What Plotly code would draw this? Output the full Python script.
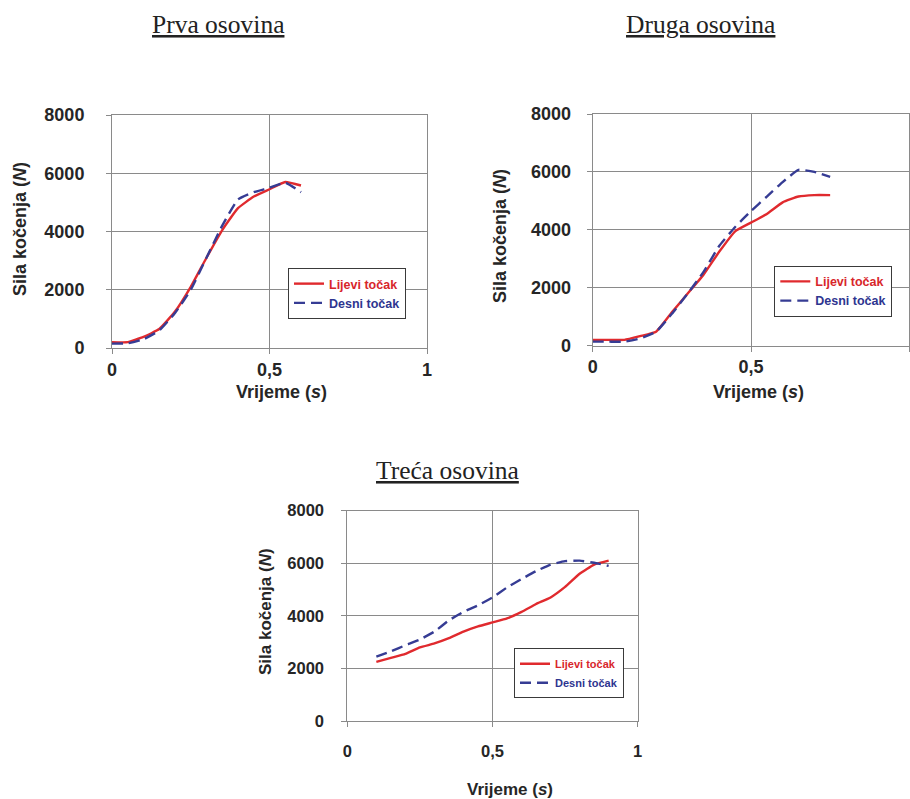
import plotly.graph_objects as go

# ---------------- data ----------------
x_prva = [0, 0.05, 0.1, 0.15, 0.2, 0.25, 0.3, 0.35, 0.4, 0.45, 0.5, 0.55, 0.6]
lijevi_prva = [200, 200, 380, 650, 1250, 2100, 3100, 4050, 4800, 5200, 5450, 5700, 5580]
desni_prva = [150, 160, 300, 600, 1200, 2000, 3100, 4200, 5100, 5350, 5500, 5680, 5350]

x_druga = [0, 0.05, 0.1, 0.15, 0.2, 0.25, 0.3, 0.35, 0.4, 0.45, 0.5, 0.55, 0.6, 0.65, 0.7, 0.75]
lijevi_druga = [200, 200, 200, 330, 480, 1150, 1800, 2450, 3250, 3950, 4250, 4550, 4950, 5150, 5200, 5200]
desni_druga = [140, 140, 140, 250, 480, 1100, 1800, 2550, 3450, 4100, 4650, 5150, 5650, 6070, 6000, 5830]

x_treca = [0.1, 0.15, 0.2, 0.25, 0.3, 0.35, 0.4, 0.45, 0.5, 0.55, 0.6, 0.65, 0.7, 0.75, 0.8, 0.85, 0.9]
lijevi_treca = [2250, 2400, 2550, 2800, 2950, 3150, 3400, 3600, 3750, 3900, 4150, 4450, 4700, 5100, 5600, 5950, 6100]
desni_treca = [2450, 2650, 2880, 3100, 3400, 3830, 4150, 4400, 4700, 5080, 5400, 5700, 5950, 6080, 6100, 6020, 5900]

x_tickvals = [0, 0.5, 1]
x_ticktext = ["0", "0,5", "1"]
y_tickvals = [0, 2000, 4000, 6000, 8000]
y_ticktext = ["0", "2000", "4000", "6000", "8000"]

titles = ["Prva osovina", "Druga osovina", "Treća osovina"]
series_names = ["Lijevi točak", "Desni točak"]
y_title = "Sila kočenja (<i>N</i>)"
x_title = "Vrijeme (<i>s</i>)"

RED = "#e02a2e"
BLUE = "#363c94"
GRID = "#8a8a8a"
TXT = "#262626"
SANS = "Liberation Sans, Arial, sans-serif"
SERIF = "Liberation Serif, Times New Roman, serif"

fig = go.Figure()

panels = [
    (x_prva, lijevi_prva, desni_prva, "x", "y", "legend"),
    (x_druga, lijevi_druga, desni_druga, "x2", "y2", "legend2"),
    (x_treca, lijevi_treca, desni_treca, "x3", "y3", "legend3"),
]

for xs, l, d, xa, ya, lg in panels:
    fig.add_trace(go.Scatter(
        x=xs, y=l, mode="lines", xaxis=xa, yaxis=ya, legend=lg,
        name="<span style='color:%s'>%s</span>" % ("#d8262b", series_names[0]),
        line=dict(color=RED, width=2.4, shape="spline", smoothing=0.4),
    ))
    fig.add_trace(go.Scatter(
        x=xs, y=d, mode="lines", xaxis=xa, yaxis=ya, legend=lg,
        name="<span style='color:%s'>%s</span>" % ("#2e3590", series_names[1]),
        line=dict(color=BLUE, width=2.4, dash="11px,6px", shape="spline", smoothing=0.4),
    ))

W, H = 910, 799

def px(v):
    return v / W

def py(v):
    return 1 - v / H

# plot area pixel boxes (left, right, top, bottom)
boxes = [
    (112, 427, 115, 348),
    (592.7, 909.3, 114, 345.7),
    (347.3, 637.7, 510.7, 721),
]

tickfont_sizes = [18, 18, 16.5]
xstandoffs = [0, 0, 10]
ystandoffs = [18, 12, 14]

layout = dict(
    width=W, height=H,
    margin=dict(l=0, r=0, t=0, b=0, pad=0),
    paper_bgcolor="white",
    plot_bgcolor="white",
    showlegend=True,
)

for i, (l, r, t, b) in enumerate(boxes):
    sfx = "" if i == 0 else str(i + 1)
    layout["xaxis" + sfx] = dict(
        domain=[px(l), px(r)], range=[0, 1], anchor="y" + sfx,
        tickvals=x_tickvals, ticktext=x_ticktext,
        showgrid=True, gridcolor=GRID, gridwidth=1,
        showline=True, linecolor=GRID, linewidth=1, mirror=True,
        ticks="outside", ticklen=5, tickcolor=GRID,
        ticklabelstandoff=xstandoffs[i],
        zeroline=False, automargin=False,
        tickfont=dict(family=SANS, size=tickfont_sizes[i], color=TXT, weight="bold"),
    )
    layout["yaxis" + sfx] = dict(
        domain=[py(b), py(t)], range=[0, 8000], anchor="x" + sfx,
        tickvals=y_tickvals, ticktext=y_ticktext,
        showgrid=True, gridcolor=GRID, gridwidth=1,
        showline=True, linecolor=GRID, linewidth=1, mirror=True,
        ticks="outside", ticklen=5, tickcolor=GRID,
        ticklabelstandoff=ystandoffs[i],
        zeroline=False, automargin=False,
        tickfont=dict(family=SANS, size=tickfont_sizes[i], color=TXT, weight="bold"),
    )

legend_pos = [(288, 268, 12.5), (774.3, 265.7, 12.5), (514, 648.3, 11)]
for i, (lx, ly, fs) in enumerate(legend_pos):
    key = "legend" if i == 0 else "legend" + str(i + 1)
    layout[key] = dict(
        x=px(lx), y=py(ly), xanchor="left", yanchor="top",
        bgcolor="white", bordercolor="#3a3a3a", borderwidth=1,
        font=dict(family=SANS, size=fs, weight="bold"),
        tracegroupgap=0, itemwidth=30,
    )

fig.update_layout(**layout)

# titles
title_pos = [(218, 24, 25.5), (700, 24, 25.5), (447, 470, 25.5)]
for txt, (tx, ty, fs) in zip(titles, title_pos):
    fig.add_annotation(
        text="<u>%s</u>" % txt, x=px(tx), y=py(ty), xref="paper", yref="paper",
        showarrow=False, xanchor="center", yanchor="middle",
        font=dict(family=SERIF, size=fs, color="#222222"),
    )

# axis titles
ytitle_pos = [(20, 229, 18), (500, 236, 18), (265, 612, 17)]
for (tx, ty, fs) in ytitle_pos:
    fig.add_annotation(
        text=y_title, x=px(tx), y=py(ty), xref="paper", yref="paper",
        showarrow=False, textangle=-90, xanchor="center", yanchor="middle",
        font=dict(family=SANS, size=fs, color=TXT, weight="bold"),
    )
xtitle_pos = [(281, 392, 18), (758, 392, 18), (510, 789, 17)]
for (tx, ty, fs) in xtitle_pos:
    fig.add_annotation(
        text=x_title, x=px(tx), y=py(ty), xref="paper", yref="paper",
        showarrow=False, xanchor="center", yanchor="middle",
        font=dict(family=SANS, size=fs, color=TXT, weight="bold"),
    )

fig.write_html(
    "out.html",
    post_script="document.body.style.margin='0';document.body.style.overflow='hidden';",
)
